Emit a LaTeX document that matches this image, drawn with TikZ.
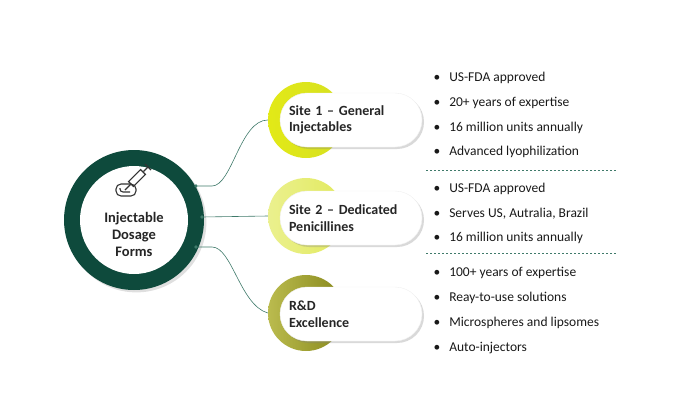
\documentclass[tikz,border=0pt]{standalone}
\usepackage{fontspec}
\setmainfont{Carlito}
\usepackage{xcolor}
\usetikzlibrary{positioning, shadows}
\definecolor{darkgreen}{HTML}{0E4A3C}
\definecolor{linegreen}{HTML}{3F7A6A}
\definecolor{limeA}{HTML}{D6E021}
\definecolor{limeB}{HTML}{E2EA5E}
\definecolor{oliveC}{HTML}{A9AA22}

\begin{document}
\begin{tikzpicture}[
    x=1pt, y=-1pt,
    hub_style/.style={circle, fill=darkgreen, minimum size=140pt, drop shadow={opacity=0.25}},
    core_style/.style={circle, fill=white, minimum size=108pt, inner sep=0pt},
    label_style/.style={align=center, font=\bfseries\fontsize{14.5}{17}\selectfont, text=black!85},
    disc_style/.style={circle, minimum size=76pt},
    pill_style/.style={rounded corners=27pt, fill=white, draw=black!6, minimum width=142pt, minimum height=54pt, align=left, text width=124pt, font=\bfseries\fontsize{14}{16.5}\selectfont, text=black!85, drop shadow={opacity=0.3, shadow xshift=2pt, shadow yshift=-2pt}},
    link_style/.style={linegreen, line width=0.6pt},
    dot_style/.style={circle, fill=linegreen, inner sep=1.3pt},
    item_style/.style={anchor=west, font=\fontsize{13.5}{16}\selectfont, text=black!90},
    icon_style/.style={draw=black!80, line width=1.1pt},
    sep_style/.style={linegreen, dashed, dash pattern=on 2pt off 2pt, line width=0.5pt}
]
    \useasboundingbox (0,0) rectangle (700,415);

    % Hub
    \node[hub_style] (hub) at (134,220) {};
    \node[core_style] (core) at (134,220) {};
    \node[label_style] (hubtext) at (134,234) {Injectable\\Dosage\\Forms};
    % syringe icon
    \draw[icon_style, rounded corners=5pt] (116,184) rectangle (136,196);
    \draw[icon_style, rounded corners=3pt] (120,188) -- (120,192) -- (130,192);
    \node[icon_style, rotate=45, minimum width=17pt, minimum height=7pt, inner sep=0pt] (barrel) at (137,178) {};
    \draw[icon_style] (barrel.west) -- (125,190);
    \draw[icon_style] (barrel.east) -- (148,167);
    \draw[icon_style] (145,164) -- (151,170);

    % Discs and pills
    \shade[left color=limeA!70!yellow, right color=limeA] (306,120) circle (38);
    \shade[left color=limeB!70!white, right color=limeB] (306,216) circle (38);
    \shade[left color=oliveC!80!white, right color=oliveC!80!black] (306,313) circle (38);
    \node[disc_style] (d1) at (306,120) {};
    \node[disc_style] (d2) at (306,216) {};
    \node[disc_style] (d3) at (306,313) {};

    \node[pill_style] (p1) at (351,120) {Site 1 – General\\Injectables};
    \node[pill_style] (p2) at (351,218) {Site 2 – Dedicated\\Penicillines};
    \node[pill_style] (p3) at (351,314) {R\&D\\Excellence};

    % Connectors
    \node[dot_style] (s1) at (196,186) {};
    \node[dot_style] (s2) at (202,217) {};
    \node[dot_style] (s3) at (196,247) {};
    \draw[link_style] (s1) -- (212,186) .. controls (232,186) and (240,120) .. (d1.west);
    \draw[link_style] (s2) -- (d2.west);
    \draw[link_style] (s3) -- (212,247) .. controls (232,247) and (240,305) .. (d3.west);

    % Bullet lists
    \foreach \txt [count=\i] in {US-FDA approved, 20+ years of expertise, 16 million units annually, Advanced lyophilization}
        \node[item_style] (a\i) at (430,78+24.7*\i-24.7) {\textbullet\hspace{9pt}\txt};
    \foreach \txt [count=\i] in {US-FDA approved, {Serves US, Autralia, Brazil}, 16 million units annually}
        \node[item_style] (b\i) at (430,189+24.5*\i-24.5) {\textbullet\hspace{9pt}\txt};
    \foreach \txt [count=\i] in {100+ years of expertise, Reay-to-use solutions, Microspheres and lipsomes, Auto-injectors}
        \node[item_style] (c\i) at (430,273+25*\i-25) {\textbullet\hspace{9pt}\txt};

    \draw[sep_style] (426,170) -- (616,170);
    \draw[sep_style] (426,253) -- (616,253);
\end{tikzpicture}
\end{document}
